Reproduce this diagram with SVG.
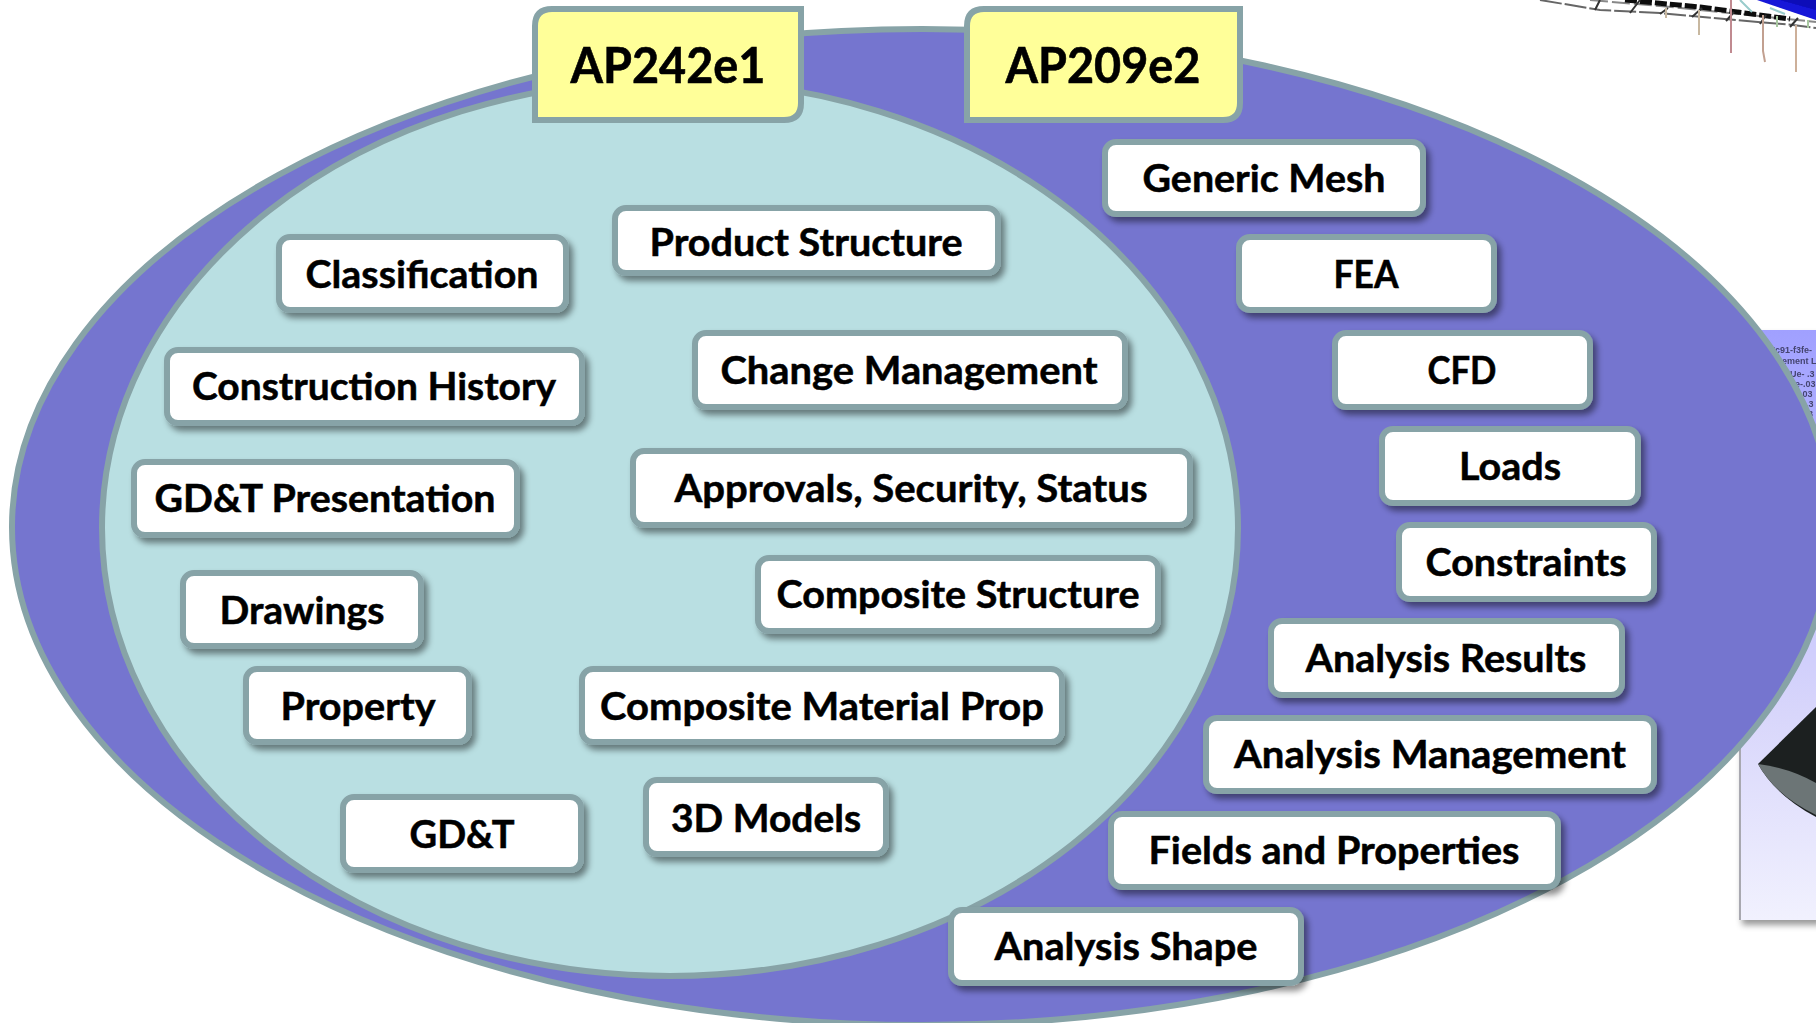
<svg xmlns="http://www.w3.org/2000/svg" width="1816" height="1023" viewBox="0 0 1816 1023">
<style>
.b rect{fill:#fff;stroke:#87a3a7;stroke-width:6;filter:url(#sh)}
.b text{font:bold 38px Lato,"Liberation Sans",sans-serif;fill:#000;stroke:#000;stroke-width:.5;text-anchor:middle}
.t path{fill:#ffff99;stroke:#87a3a7;stroke-width:6}
.t text{font:bold 50px Lato,"Liberation Sans",sans-serif;fill:#000;stroke:#000;stroke-width:.6;text-anchor:middle}
.p text{font:bold 9px "Liberation Sans",sans-serif;fill:#444470}
</style>
<defs>
<filter id="sh" x="-10%" y="-20%" width="125%" height="150%"><feDropShadow dx="4" dy="5" stdDeviation="3" flood-color="#000" flood-opacity=".45"/></filter>
<filter id="bl"><feGaussianBlur stdDeviation=".6"/></filter>
<filter id="pn" x="-10%" y="-5%" width="120%" height="110%"><feDropShadow dx="2" dy="5" stdDeviation="3" flood-color="#000" flood-opacity=".4"/></filter>
<linearGradient id="pg" x1="0" y1="0" x2="0" y2="1"><stop offset="0" stop-color="#a0a0ff"/><stop offset=".3" stop-color="#bcbcff"/><stop offset=".65" stop-color="#d8d6fb"/><stop offset="1" stop-color="#f1f1fe"/></linearGradient>
</defs>
<g id="background-images">
<g id="mesh" filter="url(#bl)" fill="none">
<path d="M1540 0L1600 10L1660 13L1713 18L1793 25L1816 28" stroke="#666" stroke-width="2" stroke-dasharray="22 3"/>
<path d="M1590 0L1660 6L1740 14L1816 22" stroke="#888" stroke-width="2" stroke-dasharray="18 4"/>
<path d="M1625 0L1700 7L1790 19" stroke="#111" stroke-width="5" stroke-dasharray="12 3"/>
<path d="M1757 0L1816 20V0Z" fill="#1414d8"/>
<path d="M1780 0L1816 10V0Z" fill="#0a0ab8"/>
<path d="M1600 0L1595 10M1640 0L1630 13M1668 8L1660 14M1702 8L1692 17M1734 12L1726 21M1766 15L1760 24M1798 18L1790 27" stroke="#333" stroke-width="2"/>
<path d="M1666 8V18M1699 10V35" stroke="#c8b8a0" stroke-width="2"/>
<path d="M1731 0V53" stroke="#c08a90" stroke-width="2"/>
<path d="M1763 15V51L1765 62" stroke="#c2a090" stroke-width="2"/>
<path d="M1796 25V72" stroke="#cdb09a" stroke-width="2"/>
<path d="M1777 16V27M1808 20V28" stroke="#a8c8a0" stroke-width="2"/>
<path d="M1740 0L1752 12M1770 8L1785 14" stroke="#9cc" stroke-width="2"/>
</g>
<g id="panel" class="p">
<rect x="1740" y="330" width="80" height="590" fill="url(#pg)" filter="url(#pn)"/>
<path d="M1740 330V920" stroke="#a8a8b0" stroke-width="2"/>
<g filter="url(#bl)"><text x="1770" y="353">7c91-f3fe-</text><text x="1782" y="364">ement L1</text><text x="1790" y="377">Ue- .3</text><text x="1795" y="387">e-.03</text><text x="1800" y="397">.03</text><text x="1806" y="407">.3</text><text x="1808" y="417">3</text></g>
<path d="M1758 764L1816 707V817Q1775 795 1758 764Z" fill="#1c2020"/>
<path d="M1758 764Q1790 768 1816 783V815Q1775 795 1758 764Z" fill="#6c7576"/>
</g>
</g>
<g id="ap209-region"><ellipse cx="922" cy="527" rx="910" ry="498" fill="#7575cf" stroke="#87a3a7" stroke-width="6"/></g>
<g id="ap242-region"><ellipse cx="670" cy="528" rx="568" ry="448" fill="#b9dfe2" stroke="#87a3a7" stroke-width="6"/></g>
<g id="connectors"></g>
<g id="tab-ap242" class="t"><path d="M552 9H801V103Q801 120 784 120H535V26Q535 9 552 9Z"/><text x="668" y="83" textLength="195" lengthAdjust="spacingAndGlyphs">AP242e1</text></g>
<g id="tab-ap209" class="t"><path d="M984 9H1240V103Q1240 120 1223 120H967V26Q967 9 984 9Z"/><text x="1103" y="83" textLength="195" lengthAdjust="spacingAndGlyphs">AP209e2</text></g>
<g id="n1" class="b"><rect x="1105" y="142" width="318" height="72" rx="11"/><text x="1264" y="192" textLength="243" lengthAdjust="spacingAndGlyphs">Generic Mesh</text></g>
<g id="n2" class="b"><rect x="1239" y="237" width="255" height="73" rx="11"/><text x="1366" y="288" textLength="65" lengthAdjust="spacingAndGlyphs">FEA</text></g>
<g id="n3" class="b"><rect x="1335" y="333" width="255" height="74" rx="11"/><text x="1462" y="384" textLength="69" lengthAdjust="spacingAndGlyphs">CFD</text></g>
<g id="n4" class="b"><rect x="1382" y="429" width="256" height="74" rx="11"/><text x="1510" y="480" textLength="102" lengthAdjust="spacingAndGlyphs">Loads</text></g>
<g id="n5" class="b"><rect x="1399" y="525" width="255" height="74" rx="11"/><text x="1526" y="576" textLength="201" lengthAdjust="spacingAndGlyphs">Constraints</text></g>
<g id="n6" class="b"><rect x="1271" y="621" width="351" height="74" rx="11"/><text x="1446" y="672" textLength="281" lengthAdjust="spacingAndGlyphs">Analysis Results</text></g>
<g id="n7" class="b"><rect x="1206" y="718" width="448" height="73" rx="11"/><text x="1430" y="768" textLength="392" lengthAdjust="spacingAndGlyphs">Analysis Management</text></g>
<g id="n8" class="b"><rect x="1111" y="814" width="447" height="73" rx="11"/><text x="1334" y="864" textLength="371" lengthAdjust="spacingAndGlyphs">Fields and Properties</text></g>
<g id="n9" class="b"><rect x="951" y="910" width="350" height="73" rx="11"/><text x="1126" y="960" textLength="263" lengthAdjust="spacingAndGlyphs">Analysis Shape</text></g>
<g id="n10" class="b"><rect x="279" y="237" width="287" height="73" rx="11"/><text x="422" y="288" textLength="233" lengthAdjust="spacingAndGlyphs">Classification</text></g>
<g id="n11" class="b"><rect x="615" y="208" width="383" height="65" rx="11"/><text x="806" y="256" textLength="313" lengthAdjust="spacingAndGlyphs">Product Structure</text></g>
<g id="n12" class="b"><rect x="695" y="333" width="430" height="74" rx="11"/><text x="909" y="384" textLength="377" lengthAdjust="spacingAndGlyphs">Change Management</text></g>
<g id="n13" class="b"><rect x="167" y="350" width="415" height="73" rx="11"/><text x="374" y="400" textLength="364" lengthAdjust="spacingAndGlyphs">Construction History</text></g>
<g id="n14" class="b"><rect x="633" y="451" width="557" height="74" rx="11"/><text x="911" y="502" textLength="473" lengthAdjust="spacingAndGlyphs">Approvals, Security, Status</text></g>
<g id="n15" class="b"><rect x="134" y="462" width="383" height="73" rx="11"/><text x="325" y="512" textLength="341" lengthAdjust="spacingAndGlyphs">GD&amp;T Presentation</text></g>
<g id="n16" class="b"><rect x="758" y="558" width="400" height="73" rx="11"/><text x="958" y="608" textLength="363" lengthAdjust="spacingAndGlyphs">Composite Structure</text></g>
<g id="n17" class="b"><rect x="183" y="573" width="238" height="73" rx="11"/><text x="302" y="624" textLength="165" lengthAdjust="spacingAndGlyphs">Drawings</text></g>
<g id="n18" class="b"><rect x="246" y="669" width="223" height="73" rx="11"/><text x="358" y="720" textLength="155" lengthAdjust="spacingAndGlyphs">Property</text></g>
<g id="n19" class="b"><rect x="582" y="669" width="480" height="73" rx="11"/><text x="822" y="720" textLength="444" lengthAdjust="spacingAndGlyphs">Composite Material Prop</text></g>
<g id="n20" class="b"><rect x="343" y="797" width="238" height="73" rx="11"/><text x="462" y="848" textLength="105" lengthAdjust="spacingAndGlyphs">GD&amp;T</text></g>
<g id="n21" class="b"><rect x="646" y="780" width="240" height="74" rx="11"/><text x="766" y="832" textLength="190" lengthAdjust="spacingAndGlyphs">3D Models</text></g>
</svg>
